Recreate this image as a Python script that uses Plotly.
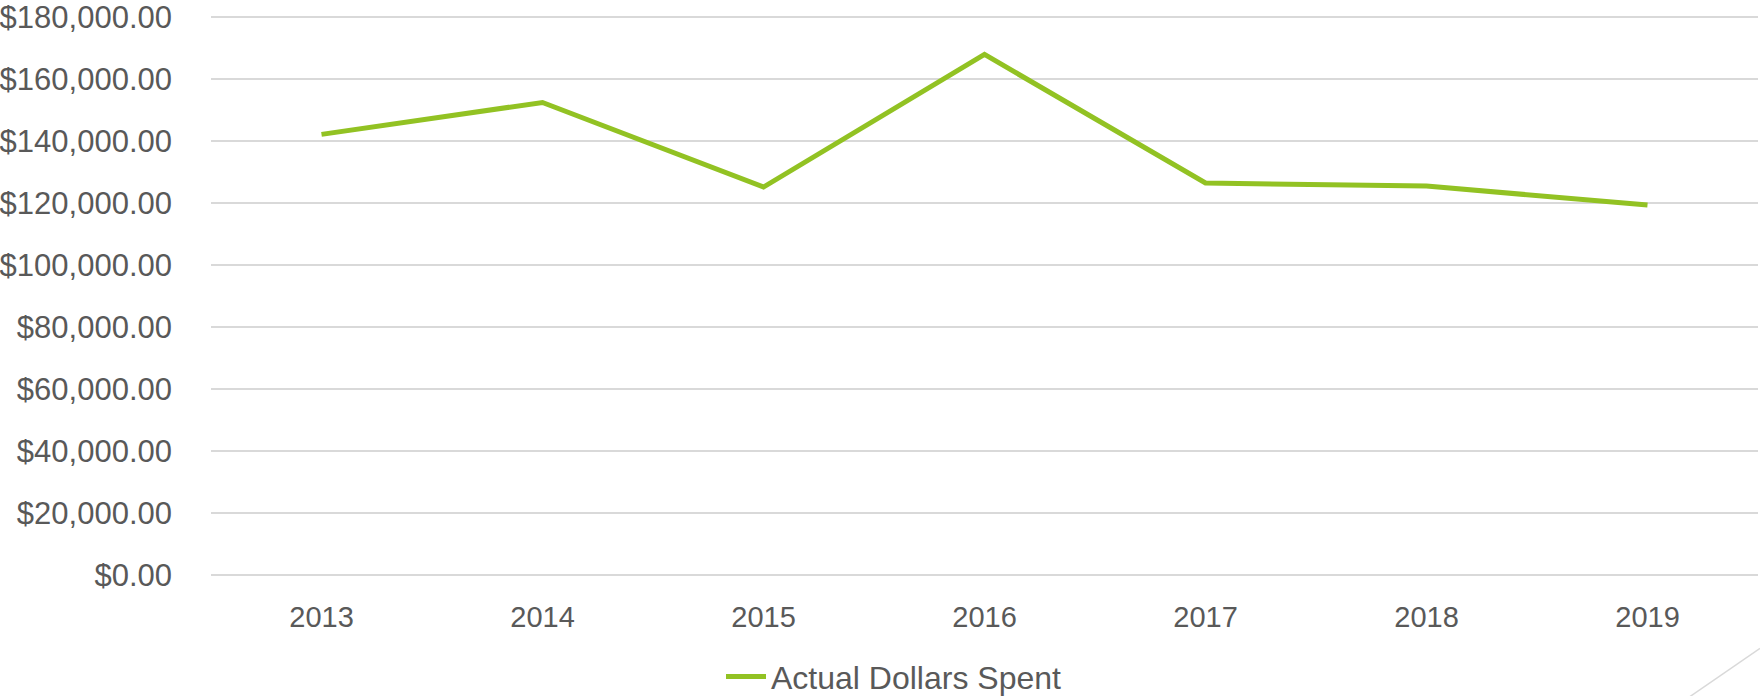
import plotly.graph_objects as go

# values
years = ["2013", "2014", "2015", "2016", "2017", "2018", "2019"]
dollars_spent = [142200, 152500, 125200, 168000, 126500, 125500, 119400]
series_name = "Actual Dollars Spent"

GREEN = "#92C223"
GRID = "#D9D9D9"
TEXT = "#595959"
FONT = "Liberation Sans, Arial, sans-serif"

fig = go.Figure()
fig.add_trace(go.Scatter(
    x=years,
    y=dollars_spent,
    mode="lines",
    name=series_name,
    line=dict(color=GREEN, width=5),
))

fig.update_layout(
    width=1760,
    height=696,
    # autoexpand off so legend / labels don't shrink the plot area
    margin=dict(l=211, r=2, t=16, b=121, autoexpand=False),
    paper_bgcolor="white",
    plot_bgcolor="white",
    font=dict(family=FONT, size=30, color=TEXT),
    showlegend=True,
    legend=dict(
        orientation="h",
        x=0.4415, xanchor="center",
        y=-0.182, yanchor="middle",
        font=dict(family=FONT, size=32, color=TEXT),
        bgcolor="rgba(0,0,0,0)",
        itemwidth=40,
    ),
    # decorative corner stroke of the slide
    shapes=[dict(
        type="line", xref="paper", yref="paper",
        x0=0.956, y0=-0.2175, x1=1.0013, y1=-0.1314,
        line=dict(color=GRID, width=1.5),
    )],
)

fig.update_xaxes(
    type="category",
    range=[-0.5, 6.5],
    showgrid=False,
    showline=False,
    zeroline=False,
    ticks="",
    ticklabelstandoff=22,
    tickfont=dict(family=FONT, size=29, color=TEXT),
)
fig.update_yaxes(
    # a hair above 180k so the top gridline is not clipped at the edge
    range=[0, 180400],
    tick0=0,
    dtick=20000,
    tickformat="$,.2f",
    showgrid=True,
    gridcolor=GRID,
    gridwidth=1.5,
    zeroline=True,
    zerolinecolor=GRID,
    zerolinewidth=1.5,
    showline=False,
    ticks="",
    ticklabelstandoff=38,
    tickfont=dict(family=FONT, size=31, color=TEXT),
)

# drop the default 8px body margin so the figure sits at the window corner
fig.write_html(
    "out.html",
    config={"displayModeBar": False},
    post_script="document.body.style.margin = '0';",
)
